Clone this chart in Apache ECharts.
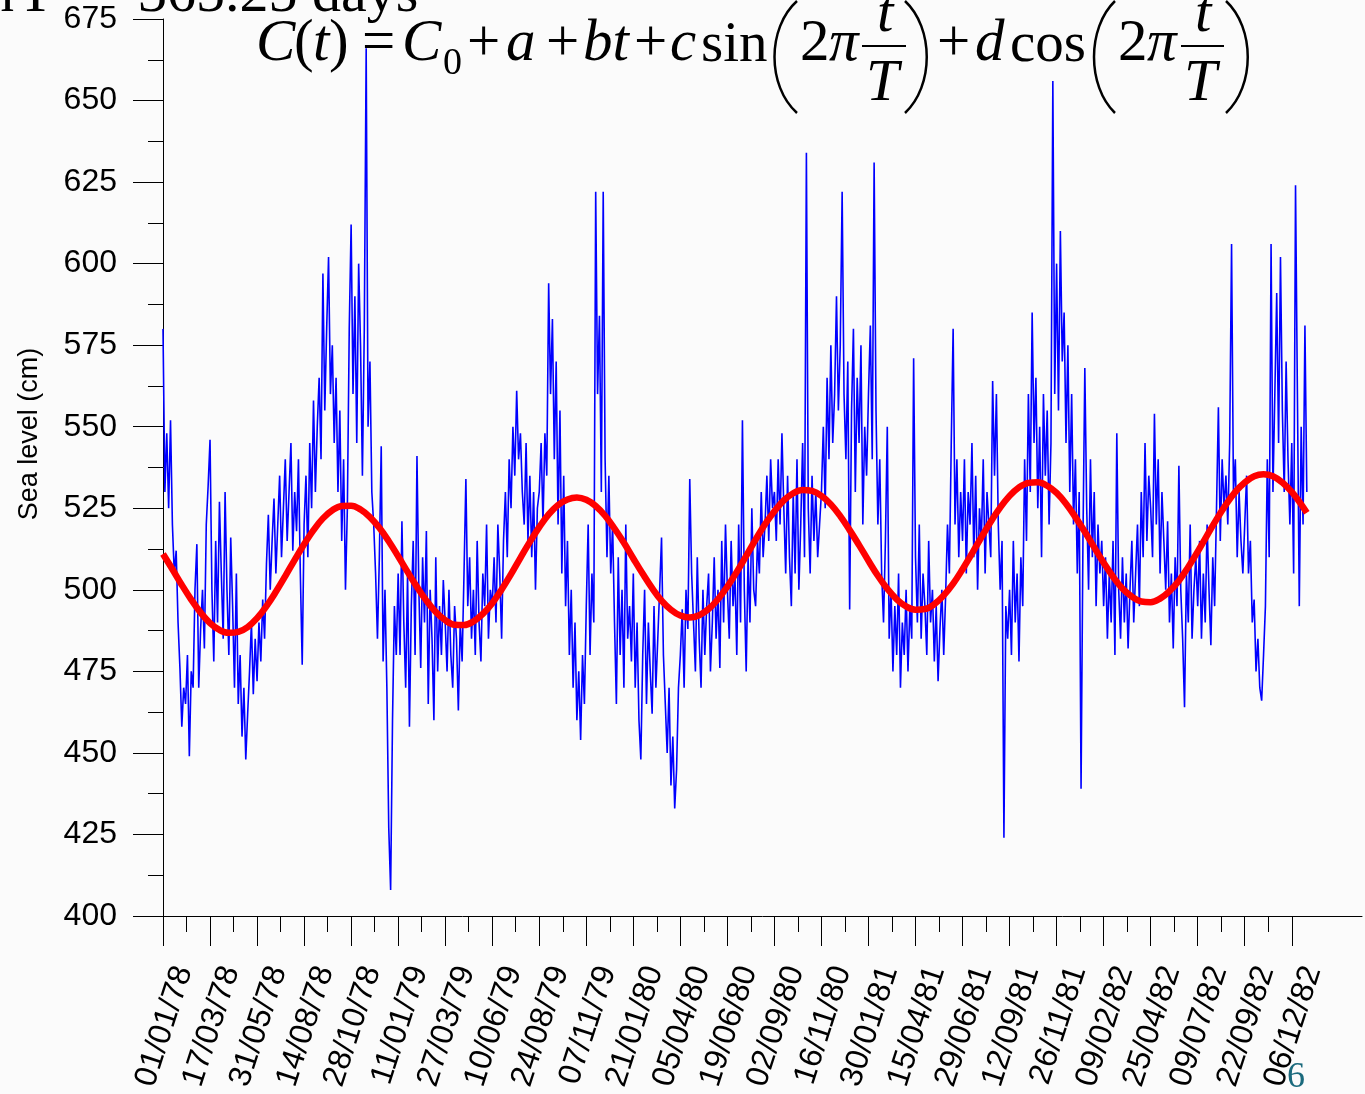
<!DOCTYPE html>
<html>
<head>
<meta charset="UTF-8" />
<title>Sea level</title>
<script src="https://cdn.jsdelivr.net/npm/echarts@6/dist/echarts.min.js"></script>
<style>
  html, body { margin: 0; padding: 0; background: #fbfbfb; }
  #chart { width: 1365px; height: 1094px; }
</style>
</head>
<body>
<div id="chart"></div>
<script>
// date labels every 75 days from 01/01/78
const tickLabels = ["01/01/78", "17/03/78", "31/05/78", "14/08/78", "28/10/78", "11/01/79",
  "27/03/79", "10/06/79", "24/08/79", "07/11/79", "21/01/80", "05/04/80", "19/06/80",
  "02/09/80", "16/11/80", "30/01/81", "15/04/81", "29/06/81", "12/09/81", "26/11/81",
  "09/02/82", "25/04/82", "09/07/82", "22/09/82", "06/12/82"];

// observed sea level (cm), one reading every 3 days from 01/01/78
const stepDays = 3;
const seaLevel = [
  580,530,548,525,552,520,505,512,490,476,458,470,465,480,449,475,470,500,514,470,488,500,482,520,532,
  546,500,478,515,490,527,505,485,530,500,480,516,495,470,505,465,480,455,470,448,462,475,490,468,485,
  472,490,478,497,485,508,523,500,515,528,505,520,535,510,525,540,515,530,545,512,530,518,540,505,477,
  520,535,510,545,525,558,530,550,565,540,597,555,580,602,560,575,545,565,530,555,515,540,500,525,580,
  612,560,590,545,600,575,535,580,666,550,570,530,520,505,485,510,544,478,500,470,427,408,460,495,480,
  505,480,521,490,470,505,458,495,515,480,541,500,476,510,490,518,465,500,485,460,510,475,495,480,503,
  490,475,500,480,470,495,485,463,490,478,505,534,495,510,485,500,480,515,490,478,505,495,520,485,500,
  495,510,490,520,505,485,515,530,510,540,525,550,535,561,540,548,530,520,545,515,535,510,530,500,525,
  530,545,520,548,535,594,560,583,540,570,520,555,505,535,495,515,480,500,470,490,460,475,454,480,465,
  495,520,480,505,490,622,560,584,530,622,540,510,535,505,520,490,465,510,480,500,470,520,485,495,478,
  505,470,490,460,448,480,500,465,490,475,462,495,470,485,500,516,480,465,450,470,440,455,433,445,470,
  480,494,470,500,488,534,505,490,475,510,485,470,500,480,495,505,475,490,510,485,500,476,515,490,520,
  500,485,515,495,505,480,520,490,552,500,475,510,490,525,500,495,515,505,530,510,520,535,515,540,525,
  530,515,540,520,548,525,505,535,510,495,530,505,540,500,520,545,510,634,525,505,535,515,530,510,520,
  530,550,525,565,540,575,545,560,590,555,575,622,560,540,570,494,555,580,530,565,545,575,520,550,535,
  560,581,540,631,555,520,540,505,490,515,550,485,500,475,495,480,505,470,490,480,500,475,495,485,571,
  510,490,520,485,505,495,480,515,490,500,478,495,472,488,500,480,498,520,505,545,580,520,540,510,530,
  515,540,505,530,520,545,510,535,500,525,515,540,505,530,520,510,564,535,560,520,500,515,424,495,485,
  500,480,515,490,505,478,510,495,540,515,560,530,585,545,565,525,550,510,560,535,555,520,545,656,560,
  600,555,610,570,585,545,575,530,560,520,540,505,530,439,515,568,525,500,540,510,530,495,520,505,515,
  495,510,485,505,490,515,480,548,500,485,510,490,505,482,500,515,490,505,520,495,530,510,545,515,535,
  525,510,554,520,540,505,530,515,500,521,490,505,482,510,495,538,500,485,464,505,490,520,485,500,510,
  495,515,485,505,490,520,500,483,510,495,525,556,515,540,525,535,520,545,606,530,540,510,530,515,505,
  520,535,505,515,490,497,475,485,470,466,480,495,540,510,606,530,560,591,545,602,555,530,570,540,520,
  545,505,624,560,495,550,520,581,530
];

// fitted seasonal curve C(t), read every 15 days (last point on 31/12/82)
const fitStep = 15, fitLastDay = 1824;
const fitLevel = [
  511.0,506.3,501.5,497.0,493.0,489.8,487.7,486.8,487.1,488.6,
  491.3,495.0,499.4,504.2,509.2,514.0,518.3,521.9,524.4,525.7,
  525.8,524.6,522.3,519.0,514.9,510.3,505.5,500.9,496.7,493.2,
  490.7,489.3,489.2,490.3,492.6,495.9,500.1,504.8,509.8,514.7,
  519.2,523.1,526.0,527.7,528.3,527.6,525.7,522.7,518.8,514.4,
  509.6,504.9,500.5,496.7,493.9,492.1,491.5,492.2,494.1,497.1,
  501.0,505.5,510.4,515.4,520.1,524.1,527.4,529.6,530.6,530.3,
  528.8,526.2,522.6,518.3,513.7,508.9,504.3,500.3,497.1,494.9,
  493.9,494.1,495.6,498.3,501.9,506.3,511.1,516.1,520.9,525.2,
  528.8,531.4,532.8,533.0,531.9,529.7,526.4,522.3,517.8,513.0,
  508.3,504.0,500.4,497.9,496.4,496.2,497.3,499.6,502.8,507.0,
  511.7,516.7,521.6,526.1,530.0,532.9,534.8,535.4,534.8,532.9,
  530.0,526.2,523.6
];

const yMin = 400, yMax = 675, yStep = 25;

const tickDays = tickLabels.map((_, i) => i * 75);
const minorDays = tickDays.slice(1).map(d => d - 37.5);
const labelShift = 33;
const labelDays = tickDays.map(d => d + labelShift);

const sans = '"Liberation Sans", Arial, sans-serif';
const serif = '"Liberation Serif", "Times New Roman", serif';

// formula pieces: [text, left x, baseline y, size, italic]
const formula = [
  ["C", 256, 65, 59, true], ["(", 294, 65, 59, false], ["t", 313, 65, 59, true], [")", 329, 65, 59, false],
  ["=", 362, 65, 59, false], ["C", 402, 65, 59, true], ["0", 443, 77, 38, false],
  ["+", 467, 65, 59, false], ["a", 506, 65, 59, true], ["+", 546, 65, 59, false],
  ["bt", 583, 65, 59, true], ["+", 634, 65, 59, false], ["c", 670, 65, 59, true],
  ["sin", 701, 65, 57, false], ["2", 800, 65, 59, false], ["\u03c0", 829, 65, 59, true],
  ["t", 877, 36, 59, true], ["T", 866, 105, 59, true],
  ["+", 937, 65, 59, false], ["d", 975, 65, 59, true], ["cos", 1010, 65, 57, false],
  ["2", 1118, 65, 59, false], ["\u03c0", 1147, 65, 59, true],
  ["t", 1195, 36, 59, true], ["T", 1184, 105, 59, true],
  // cut slide title
  ["n", -15, 15, 58, false], ["T", 18, 15, 58, false], ["=", 80, 15, 58, false], ["365.25 days", 138, 15, 58, false]
];

const graphics = formula.map(([t, x, b, s, it]) => ({
  type: 'text', z: 0,
  style: {
    text: t, x: x, y: b - s * 0.34, fill: '#000',
    font: (it ? 'italic ' : '') + s + 'px ' + serif,
    align: 'left', verticalAlign: 'middle'
  }
}));
// fraction bars
[[862, 906], [1181, 1224]].forEach(([a, b]) => graphics.push({
  type: 'line', z: 0, shape: { x1: a, y1: 46, x2: b, y2: 46 }, style: { stroke: '#000', lineWidth: 2 }
}));
// big parentheses: [end x, control x]
[[797, 767], [1115, 1087], [905, 934], [1226, 1255]].forEach(([a, c]) => graphics.push({
  type: 'bezierCurve', z: 0,
  shape: { x1: a, y1: 1, cpx1: c, cpy1: 28, cpx2: c, cpy2: 86, x2: a, y2: 113 },
  style: { stroke: '#000', lineWidth: 2.5, fill: null }
}));
// y axis title
graphics.push({
  type: 'text', z: 0, x: 30, y: 434, rotation: Math.PI / 2,
  style: { text: 'Sea level (cm)', fill: '#000', font: '27px ' + sans, align: 'center', verticalAlign: 'middle' }
});
// slide number
graphics.push({
  type: 'text', z: 0,
  style: { text: '6', x: 1287, y: 1078, fill: '#1b6a7d', font: '36px ' + serif, align: 'left', verticalAlign: 'middle' }
});

const chart = echarts.init(document.getElementById('chart'));
chart.setOption({
  animation: false,
  backgroundColor: '#fbfbfb',
  grid: { left: 163, right: 3, top: 19, bottom: 178, containLabel: false },
  xAxis: [{
    type: 'value', min: 0, max: 1912, interval: 75,
    axisLine: { show: true, lineStyle: { color: '#000', width: 1 } },
    axisTick: { show: true, inside: false, length: 30, customValues: tickDays, lineStyle: { color: '#000' } },
    axisLabel: {
      customValues: labelDays, rotate: 72, margin: 51, color: '#000',
      fontFamily: sans, fontSize: 32,
      formatter: v => tickLabels[Math.round((v - labelShift) / 75)] || ''
    },
    splitLine: { show: false }
  }, {
    type: 'value', min: 0, max: 1912, position: 'bottom',
    axisLine: { show: false },
    axisTick: { show: true, length: 16, customValues: minorDays, lineStyle: { color: '#000' } },
    axisLabel: { show: false },
    splitLine: { show: false }
  }],
  yAxis: {
    type: 'value', min: yMin, max: yMax, interval: yStep,
    axisLine: { show: true, lineStyle: { color: '#000', width: 1 } },
    axisTick: { show: true, length: 30, lineStyle: { color: '#000' } },
    minorTick: { show: true, splitNumber: 2, length: 15, lineStyle: { color: '#000' } },
    axisLabel: { margin: 46, color: '#000', fontFamily: sans, fontSize: 32 },
    splitLine: { show: false }
  },
  graphic: graphics,
  series: [{
    type: 'line', xAxisIndex: 0, showSymbol: false, z: 2,
    data: seaLevel.map((v, i) => [i * stepDays, v]),
    lineStyle: { color: '#0000ff', width: 1.6 }
  }, {
    type: 'line', xAxisIndex: 0, showSymbol: false, smooth: 0.4, z: 3,
    data: fitLevel.map((v, i) => [Math.min(i * fitStep, fitLastDay), v]),
    lineStyle: { color: '#ff0000', width: 6.5 }
  }]
});
</script>
</body>
</html>
